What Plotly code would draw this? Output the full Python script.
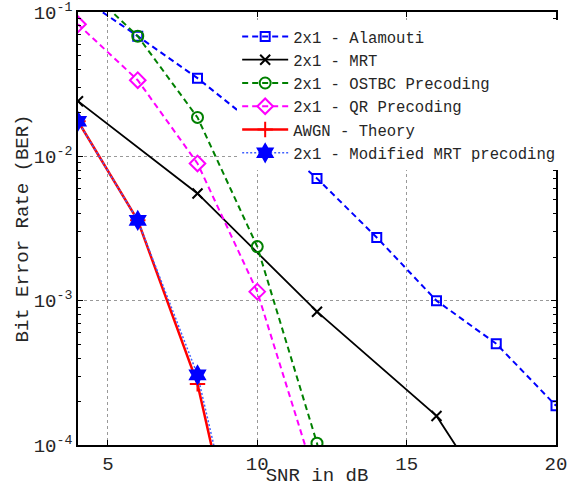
import plotly.graph_objects as go

snr_ala = [4, 6, 8, 10, 12, 14, 16, 18, 20]
ber_ala = [0.13, 0.068, 0.0348, 0.0162, 0.00703, 0.00274, 0.00100, 0.000503, 0.000187]

snr_mrt = [4, 8, 12, 16, 20]
ber_mrt = [0.0241, 0.00553, 0.000839, 0.000159, 8.4e-6]

snr_ostbc = [4, 6, 8, 10, 12, 14]
ber_ostbc = [0.167, 0.068, 0.0186, 0.00237, 0.000103, 1e-6]

snr_qr = [4, 6, 8, 10, 12]
ber_qr = [0.0822, 0.0337, 0.00893, 0.001155, 5.4e-5]

snr_awgn = [4, 6, 8, 10]
ber_awgn = [0.0175, 0.0036, 0.000265, 3.9e-6]

snr_mod = [4, 6, 8, 10]
ber_mod = [0.0175, 0.0036, 0.000306, 5e-6]

x_ticks = [5, 10, 15, 20]
y_ticks = [1e-4, 1e-3, 1e-2, 1e-1]
y_ticktext = ["10<sup>-4</sup>", "10<sup>-3</sup>", "10<sup>-2</sup>", "10<sup>-1</sup>"]
y_minor_ticks = [m * d for d in (1e-4, 1e-3, 1e-2) for m in (2, 3, 4, 5, 6, 7, 8, 9)]

FONT = "Liberation Mono"

fig = go.Figure()
fig.add_trace(go.Scatter(x=snr_ala, y=ber_ala, name="2x1 - Alamouti", mode="lines+markers",
                         line=dict(color="#0000ff", width=2, dash="6px,4px"),
                         marker=dict(symbol="square-open", size=9, color="#0000ff", line=dict(width=2))))
fig.add_trace(go.Scatter(x=snr_mrt, y=ber_mrt, name="2x1 - MRT", mode="lines+markers",
                         line=dict(color="black", width=1.8),
                         marker=dict(symbol="x-thin-open", size=10, color="black", line=dict(width=2, color="black"))))
fig.add_trace(go.Scatter(x=snr_ostbc, y=ber_ostbc, name="2x1 - OSTBC Precoding", mode="lines+markers",
                         line=dict(color="#008000", width=2, dash="6px,4px"),
                         marker=dict(symbol="circle-open", size=11, color="#008000", line=dict(width=2))))
fig.add_trace(go.Scatter(x=snr_qr, y=ber_qr, name="2x1 - QR Precoding", mode="lines+markers",
                         line=dict(color="#ff00ff", width=2, dash="6px,4px"),
                         marker=dict(symbol="diamond-open", size=12, color="#ff00ff", line=dict(width=2))))
fig.add_trace(go.Scatter(x=snr_awgn, y=ber_awgn, name="AWGN - Theory", mode="lines+markers",
                         line=dict(color="#ff0000", width=2.5),
                         marker=dict(symbol="cross-thin-open", size=11, color="#ff0000", line=dict(width=2, color="#ff0000"))))
fig.add_trace(go.Scatter(x=snr_mod, y=ber_mod, name="2x1 - Modified MRT precoding", mode="lines+markers",
                         line=dict(color="#4060ff", width=1.5, dash="2px,2px"),
                         marker=dict(symbol="hexagram", size=16, color="#0000ff", line=dict(width=0))))

fig.update_layout(
    width=577, height=487,
    margin=dict(l=78, r=21, t=12, b=42, autoexpand=False),
    paper_bgcolor="white", plot_bgcolor="white",
    font=dict(family=FONT, size=19, color="#262626"),
    showlegend=True,
    legend=dict(x=0.333, y=0.982, xanchor="left", yanchor="top", bgcolor="white",
                borderwidth=0, font=dict(family=FONT, size=15.6, color="#262626"),
                tracegroupgap=0, itemwidth=46),
    xaxis=dict(range=[4, 20], tickvals=x_ticks, ticks="inside", ticklen=5, tickcolor="black",
               showline=True, linecolor="black", linewidth=1.5, mirror="ticks",
               showgrid=True, gridcolor="#999999", griddash="dot", gridwidth=1,
               zeroline=False, automargin=False, ticklabeloverflow="allow",
               title=dict(text="SNR in dB", standoff=0, font=dict(family=FONT, size=19)),
               tickfont=dict(family=FONT, size=19)),
    yaxis=dict(type="log", range=[-4, -1], tickmode="array", tickvals=y_ticks, ticktext=y_ticktext,
               ticks="inside", ticklen=5, tickcolor="black",
               showline=True, linecolor="black", linewidth=1.5, mirror="ticks",
               showgrid=True, gridcolor="#999999", griddash="dot", gridwidth=1,
               minor=dict(tickmode="array", tickvals=y_minor_ticks, ticks="inside", ticklen=3,
                          tickcolor="black", tickwidth=1, showgrid=False),
               zeroline=False, automargin=False, ticklabeloverflow="allow",
               title=dict(text="Bit Error Rate (BER)", standoff=0, font=dict(family=FONT, size=19)),
               tickfont=dict(family=FONT, size=19)),
)

fig.write_html("out.html", config={"displayModeBar": False},
               post_script="document.body.style.margin='0px';document.body.style.overflow='hidden';")
